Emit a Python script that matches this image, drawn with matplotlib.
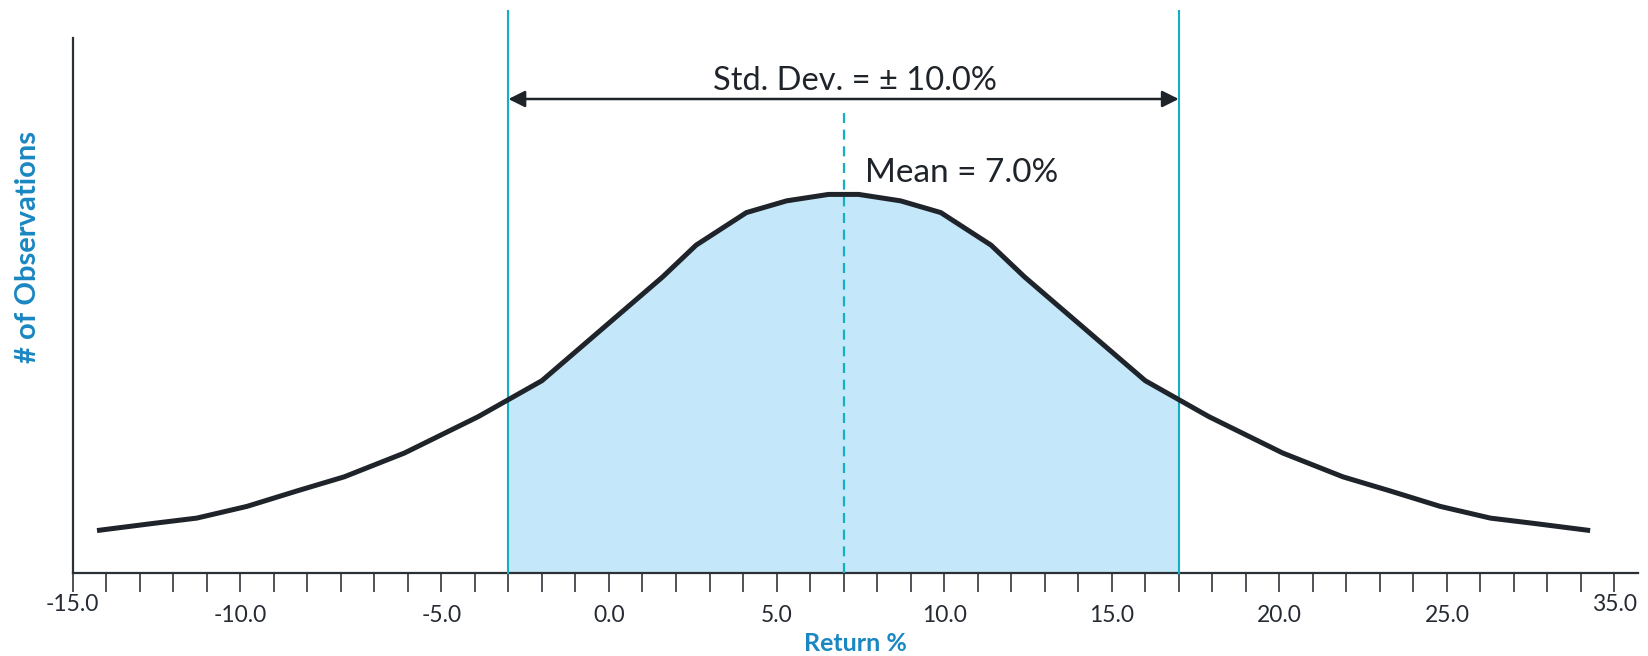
import numpy as np
import matplotlib
matplotlib.use("Agg")
import matplotlib.pyplot as plt

plt.rcParams['font.family'] = ['Lato', 'DejaVu Sans']

# distribution of returns (return %, # of observations)
ret = [-15.2, -13.6, -12.3, -10.8, -9.3, -7.9, -6.1, -3.9, -2.0, 1.6, 2.6, 4.1, 5.3, 6.55,
       7.45, 8.7, 9.9, 11.4, 12.4, 16.0, 17.9, 20.1, 21.9, 23.3, 24.8, 26.3, 27.6, 29.2]
obs = [11.3, 13.1, 14.5, 17.6, 21.7, 25.4, 31.7, 41.3, 50.8, 78.2, 86.6, 95.2, 98.3, 100,
       100, 98.3, 95.2, 86.6, 78.2, 50.8, 41.3, 31.7, 25.4, 21.7, 17.6, 14.5, 13.1, 11.3]

mean = 7.0
std = 10.0

tick_pos = [-16, -11, -5, 0, 5, 10, 15, 20, 25, 30]
tick_labels = ["-15.0", "-10.0", "-5.0", "0.0", "5.0", "10.0", "15.0", "20.0", "25.0", "35.0"]

dark = "#1f242b"
teal = "#12b0c2"
fill = "#c4e7f9"
blue = "#1a87c2"

fig = plt.figure(figsize=(16.48, 6.56), dpi=100)
ax = fig.add_axes([0.0441, 0.1265, 0.9498, 0.8155])
ax.set_xlim(-16, 30.7)
ax.set_ylim(0, 141.3)

# shaded band of +/- one std dev under the curve
lo, hi = mean - std, mean + std
x_band = [lo] + [x for x in ret if lo < x < hi] + [hi]
y_band = np.interp(x_band, ret, obs)
ax.fill_between(x_band, 0, y_band, color=fill, lw=0, zorder=1)

ax.plot(ret, obs, color=dark, lw=3.6, solid_joinstyle='miter', zorder=4)

# std dev boundaries and mean
for xv in (lo, hi):
    ax.plot([xv, xv], [0, 148.5], color=teal, lw=1.5, clip_on=False, zorder=3)
ax.plot([mean, mean], [0, 123], color=teal, lw=1.6, ls=(0, (4.5, 3)), zorder=3)

ax.annotate("", xy=(lo, 125.2), xytext=(hi, 125.2),
            arrowprops=dict(arrowstyle="<|-|>", color=dark, lw=1.8,
                            mutation_scale=25, shrinkA=0, shrinkB=0))
ax.text(7.33, 130.0, "Std. Dev. = \u00b1 10.0%", ha='center', va='center',
        fontsize=23.5, color=dark)
ax.text(7.63, 105.6, "Mean = 7.0%", ha='left', va='center', fontsize=24, color=dark)

for s in ('top', 'right'):
    ax.spines[s].set_visible(False)
for s in ('left', 'bottom'):
    ax.spines[s].set_color("#2b2f36")
    ax.spines[s].set_linewidth(1.6)

ax.set_yticks([])
ax.set_xticks(tick_pos, tick_labels)
ax.set_xticks(np.arange(-16, 31), minor=True)
ax.tick_params(axis='x', which='both', length=14, width=1.1, color=dark,
               labelsize=16.5, labelcolor="#262b33", pad=9)
for lab in (ax.get_xticklabels()[0], ax.get_xticklabels()[-1]):
    lab.set_y(0.02)

ax.set_xlabel("Return %", fontsize=18, fontweight='bold', color=blue)
ax.xaxis.set_label_coords(0.4998, -0.131)
ax.xaxis.label.set_va('center')
ax.set_ylabel("# of Observations", fontsize=21, fontweight='bold', color=blue)
ax.yaxis.set_label_coords(-0.0286, 0.609)
ax.yaxis.label.set_va('center')

fig.savefig("out.png", dpi=100)
